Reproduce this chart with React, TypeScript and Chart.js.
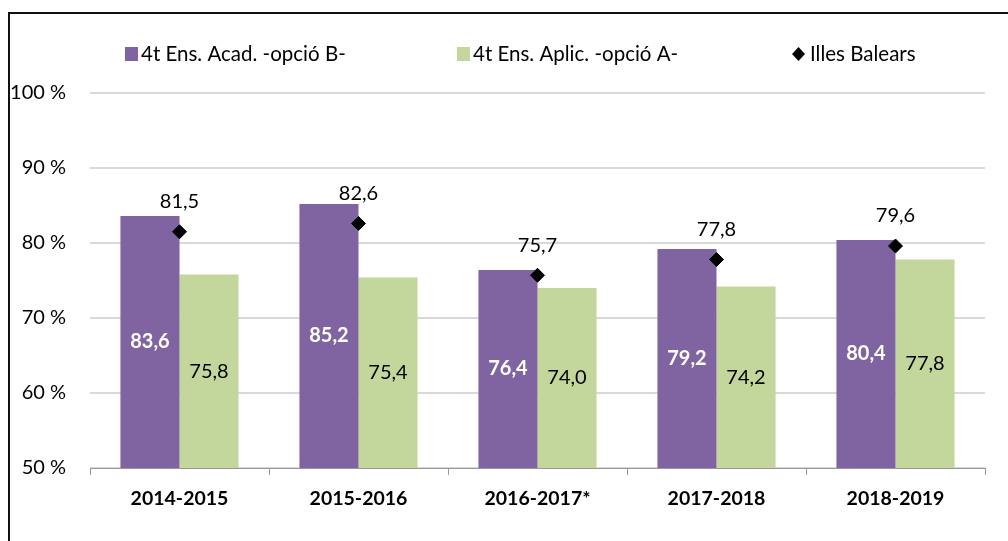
import React, { useEffect, useRef } from "react";
import { Chart, registerables } from "chart.js";

Chart.register(...registerables);

const categories = ["2014-2015", "2015-2016", "2016-2017*", "2017-2018", "2018-2019"];
const academicValues = [83.6, 85.2, 76.4, 79.2, 80.4];
const appliedValues = [75.8, 75.4, 74.0, 74.2, 77.8];
const balearsValues = [81.5, 82.6, 75.7, 77.8, 79.6];
const seriesNames = ["4t Ens. Acad. -opció B-", "4t Ens. Aplic. -opció A-", "Illes Balears"];
const yTicks = [50, 60, 70, 80, 90, 100];

const PURPLE = "#8064A2";
const GREEN = "#C3D69B";
const FONT = "Lato, 'Open Sans', sans-serif";

const fmt = (v: number) => v.toFixed(1).replace(".", ",");

const decorPlugin = {
  id: "decor",
  beforeDraw(chart: any) {
    const ctx = chart.ctx;
    ctx.save();
    ctx.fillStyle = "#fff";
    ctx.fillRect(0, 0, chart.width, chart.height);
    ctx.strokeStyle = "#111";
    ctx.lineWidth = 2;
    ctx.beginPath();
    ctx.moveTo(9, chart.height);
    ctx.lineTo(9, 13);
    ctx.lineTo(chart.width, 13);
    ctx.stroke();
    ctx.restore();
  },
  afterDraw(chart: any) {
    const ctx = chart.ctx;
    ctx.save();
    // legend
    ctx.font = `20.5px ${FONT}`;
    ctx.textBaseline = "middle";
    ctx.textAlign = "left";
    const ly = 54;
    const items = [
      { x: 125, kind: "box", color: PURPLE, text: seriesNames[0] },
      { x: 457, kind: "box", color: GREEN, text: seriesNames[1] },
      { x: 792, kind: "diamond", color: "#000", text: seriesNames[2] },
    ];
    items.forEach((it) => {
      ctx.fillStyle = it.color;
      if (it.kind === "box") {
        ctx.fillRect(it.x, ly - 7, 13, 14);
        ctx.fillStyle = "#000";
        ctx.fillText(it.text, it.x + 16, ly);
      } else {
        ctx.beginPath();
        ctx.moveTo(it.x + 6.5, ly - 7);
        ctx.lineTo(it.x + 13, ly);
        ctx.lineTo(it.x + 6.5, ly + 7);
        ctx.lineTo(it.x, ly);
        ctx.closePath();
        ctx.fill();
        ctx.fillStyle = "#000";
        ctx.fillText(it.text, it.x + 18, ly);
      }
    });

    // data labels
    ctx.textAlign = "center";
    const base = chart.scales.y.getPixelForValue(chart.scales.y.min);
    chart.data.datasets.forEach((ds: any, di: number) => {
      const meta = chart.getDatasetMeta(di);
      meta.data.forEach((el: any, i: number) => {
        const v = ds.data[i];
        if (di === 0) {
          ctx.font = `bold 20px ${FONT}`;
          ctx.fillStyle = "#fff";
          ctx.fillText(fmt(v), el.x, (el.y + base) / 2);
        } else if (di === 1) {
          ctx.font = `20px ${FONT}`;
          ctx.fillStyle = "#000";
          ctx.fillText(fmt(v), el.x, (el.y + base) / 2);
        } else {
          ctx.font = `20px ${FONT}`;
          ctx.fillStyle = "#000";
          ctx.fillText(fmt(v), el.x, el.y - 30);
        }
      });
    });
    ctx.restore();
  },
};

export default function App() {
  const ref = useRef<HTMLCanvasElement>(null);
  useEffect(() => {
    if (!ref.current) return;
    const chart = new Chart(ref.current, {
      type: "bar",
      data: {
        labels: categories,
        datasets: [
          {
            type: "bar",
            label: seriesNames[0],
            data: academicValues,
            backgroundColor: PURPLE,
            categoryPercentage: 0.66,
            barPercentage: 1,
            order: 2,
          },
          {
            type: "bar",
            label: seriesNames[1],
            data: appliedValues,
            backgroundColor: GREEN,
            categoryPercentage: 0.66,
            barPercentage: 1,
            order: 2,
          },
          {
            type: "line",
            label: seriesNames[2],
            data: balearsValues,
            showLine: false,
            pointStyle: "rectRot",
            pointRadius: 7,
            pointBackgroundColor: "#000",
            pointBorderColor: "#000",
            borderColor: "#000",
            backgroundColor: "#000",
            order: 1,
          } as any,
        ],
      },
      options: {
        responsive: false,
        animation: false,
        layout: { padding: { top: 93, right: 23, bottom: 0, left: 0 } },
        plugins: {
          legend: { display: false },
          tooltip: { enabled: false },
          title: { display: false },
        },
        scales: {
          x: {
            offset: true,
            grid: {
              offset: true,
              drawOnChartArea: false,
              drawTicks: true,
              tickLength: 7,
              color: "#999",
            },
            border: { display: true, color: "#999", width: 1 },
            ticks: {
              color: "#000",
              font: { family: FONT, size: 19.5, weight: "bold" },
              padding: 12,
            },
            afterFit(axis: any) {
              axis.height = 73;
            },
          },
          y: {
            min: 50,
            max: 100,
            afterBuildTicks(axis: any) {
              axis.ticks = yTicks.map((v) => ({ value: v }));
            },
            grid: { color: "#d9d9d9", lineWidth: 2, drawTicks: false },
            border: { display: false },
            ticks: {
              color: "#000",
              font: { family: FONT, size: 20 },
              padding: 24,
              callback: (v: any) => `${v} %`,
            },
            afterFit(axis: any) {
              axis.width = 90;
            },
          },
        },
      },
      plugins: [decorPlugin],
    });
    return () => chart.destroy();
  }, []);
  return (
    <div style={{ position: "absolute", left: 0, top: 0, width: 1008, height: 541 }}>
      <canvas ref={ref} width={1008} height={541} style={{ display: "block" }} />
    </div>
  );
}
